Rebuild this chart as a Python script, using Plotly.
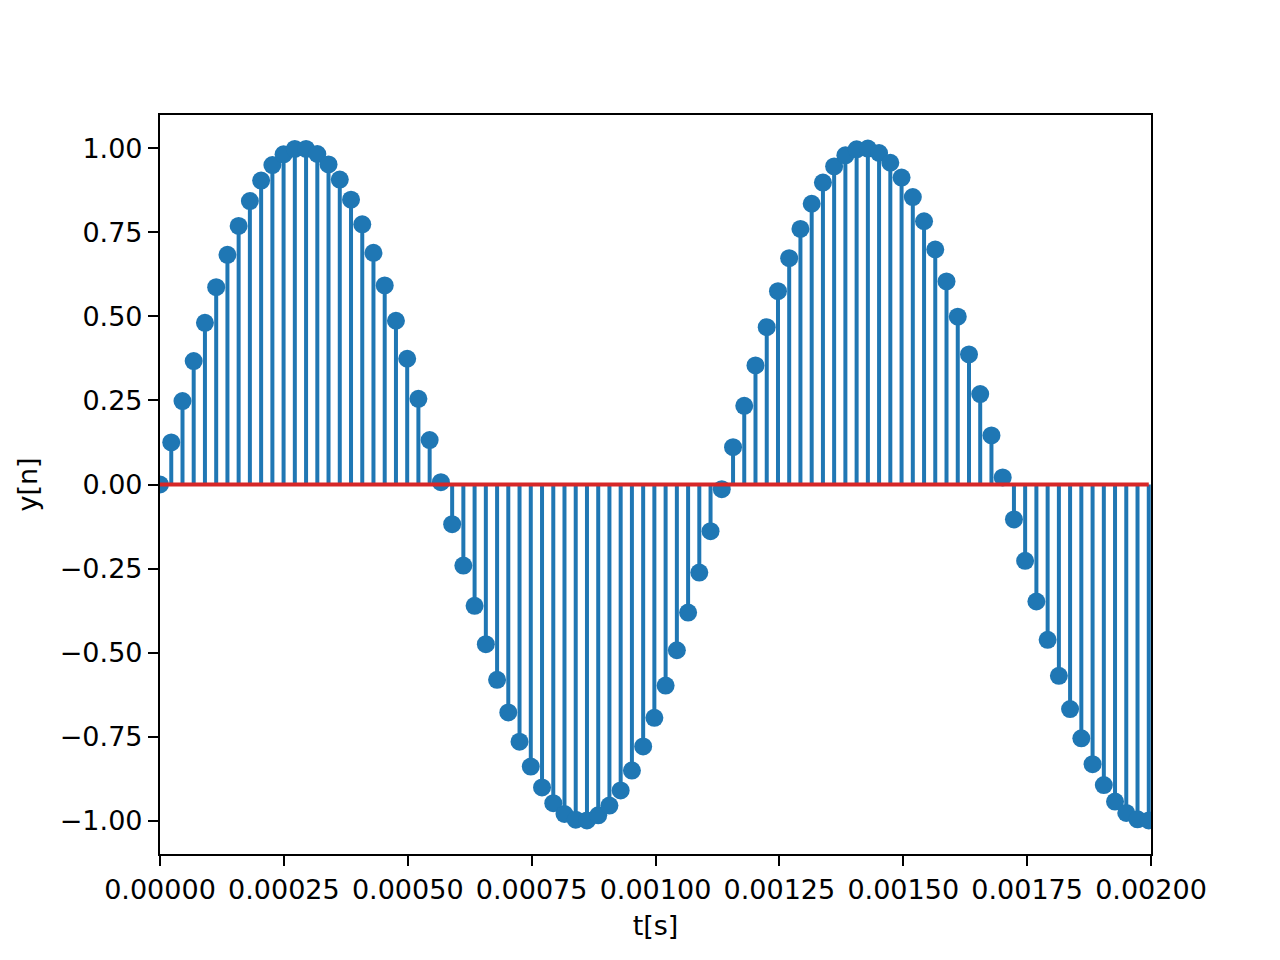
import plotly.graph_objects as go

# sample times in microseconds (44.1 kHz sampling, 0..2 ms)
t_us = [0.0, 22.7, 45.4, 68.0, 90.7, 113.4, 136.1, 158.7, 181.4, 204.1,
        226.8, 249.4, 272.1, 294.8, 317.5, 340.1, 362.8, 385.5, 408.2, 430.8,
        453.5, 476.2, 498.9, 521.5, 544.2, 566.9, 589.6, 612.2, 634.9, 657.6,
        680.3, 702.9, 725.6, 748.3, 771.0, 793.7, 816.3, 839.0, 861.7, 884.4,
        907.0, 929.7, 952.4, 975.1, 997.7, 1020.4, 1043.1, 1065.8, 1088.4, 1111.1,
        1133.8, 1156.5, 1179.1, 1201.8, 1224.5, 1247.2, 1269.8, 1292.5, 1315.2, 1337.9,
        1360.5, 1383.2, 1405.9, 1428.6, 1451.2, 1473.9, 1496.6, 1519.3, 1542.0, 1564.6,
        1587.3, 1610.0, 1632.7, 1655.3, 1678.0, 1700.7, 1723.4, 1746.0, 1768.7, 1791.4,
        1814.1, 1836.7, 1859.4, 1882.1, 1904.8, 1927.4, 1950.1, 1972.8, 1995.5]

# sample values y[n]
y_n = [0.000, 0.125, 0.248, 0.367, 0.481, 0.587, 0.683, 0.769, 0.843, 0.904,
       0.950, 0.982, 0.998, 0.998, 0.983, 0.952, 0.907, 0.847, 0.774, 0.689,
       0.592, 0.487, 0.374, 0.255, 0.132, 0.007, -0.118, -0.241, -0.361, -0.475,
       -0.581, -0.678, -0.765, -0.839, -0.901, -0.948, -0.980, -0.997, -0.999, -0.984,
       -0.955, -0.910, -0.851, -0.779, -0.694, -0.598, -0.493, -0.381, -0.262, -0.139,
       -0.014, 0.111, 0.234, 0.354, 0.468, 0.575, 0.673, 0.760, 0.835, 0.898,
       0.946, 0.979, 0.997, 0.999, 0.986, 0.957, 0.913, 0.855, 0.783, 0.699,
       0.604, 0.499, 0.387, 0.269, 0.146, 0.021, -0.104, -0.227, -0.348, -0.462,
       -0.569, -0.668, -0.755, -0.832, -0.894, -0.943, -0.977, -0.996, -0.999]

x_ticks = [0.0, 0.00025, 0.0005, 0.00075, 0.001, 0.00125, 0.0015, 0.00175, 0.002]
y_ticks = [-1.0, -0.75, -0.5, -0.25, 0.0, 0.25, 0.5, 0.75, 1.0]
y_ticktext = ["\u22121.00", "\u22120.75", "\u22120.50", "\u22120.25", "0.00",
              "0.25", "0.50", "0.75", "1.00"]

t = [v * 1e-6 for v in t_us]

BLUE = "#1f77b4"
RED = "#d62728"
FONT = dict(family="DejaVu Sans", size=27, color="black")

# stem lines
stem_x, stem_y = [], []
for ti, yi in zip(t, y_n):
    stem_x += [ti, ti, None]
    stem_y += [0, yi, None]

fig = go.Figure()
fig.add_trace(go.Scatter(x=stem_x, y=stem_y, mode="lines",
                         line=dict(color=BLUE, width=4), hoverinfo="skip"))
fig.add_trace(go.Scatter(x=t, y=y_n, mode="markers",
                         marker=dict(color=BLUE, size=18, line=dict(width=0))))
fig.add_trace(go.Scatter(x=[t[0], t[-1]], y=[0, 0], mode="lines",
                         line=dict(color=RED, width=4)))

# page body has an 8px margin, so the figure is shrunk by that much
fig.update_layout(
    width=1272, height=952,
    margin=dict(l=152, r=129, t=107, b=106),
    paper_bgcolor="white", plot_bgcolor="white",
    showlegend=False,
    font=FONT,
    xaxis=dict(
        range=[0, 0.002], tickvals=x_ticks, tickformat=".5f",
        ticks="outside", ticklen=10, tickwidth=2.2, tickcolor="black",
        showline=True, linewidth=2.2, linecolor="black", mirror=True,
        showgrid=False, zeroline=False, automargin=False,
        title=dict(text="t[s]", font=FONT, standoff=13),
    ),
    yaxis=dict(
        range=[-1.099, 1.099], tickvals=y_ticks, ticktext=y_ticktext,
        ticks="outside", ticklen=10, tickwidth=2.2, tickcolor="black",
        showline=True, linewidth=2.2, linecolor="black", mirror=True,
        showgrid=False, zeroline=False, automargin=False,
        title=dict(text="y[n]", font=FONT, standoff=14),
    ),
)

fig.write_html("out.html")
